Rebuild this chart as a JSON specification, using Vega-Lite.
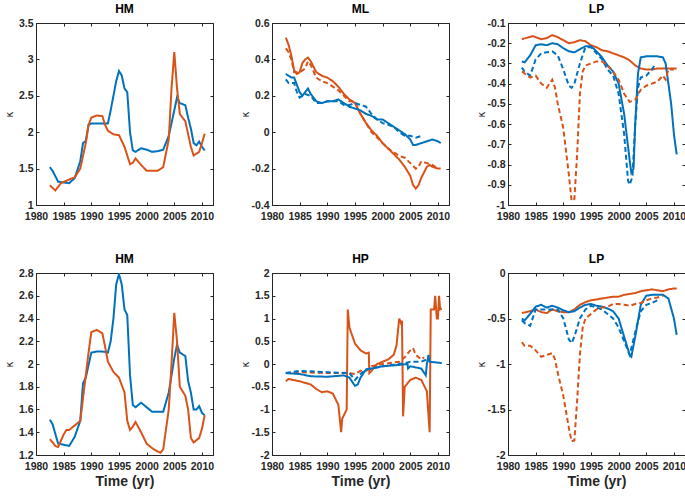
{
"$schema":"https://vega.github.io/schema/vega-lite/v6.json",
"padding":{"left":3,"top":2,"right":2,"bottom":2},
"background":"white",
"config":{
 "font":"Liberation Sans",
 "view":{"stroke":"#262626","strokeWidth":1},
 "axis":{"grid":false,"labelFont":"Liberation Sans","labelFontSize":10.5,"labelFontWeight":"bold","labelColor":"#262626","domainColor":"#262626","tickColor":"#262626","tickSize":-3,"labelPadding":6,"labelFlush":false,"titleFont":"DejaVu Sans","titleFontWeight":"normal","titleFontSize":10,"titleColor":"#262626","labelOverlap":false},
 "axisBottom":{"titleFont":"Liberation Sans","titleFontWeight":"bold","titleFontSize":14,"titlePadding":3,"labelPadding":9},
 "axisLeft":{"minExtent":20,"maxExtent":20,"titlePadding":2},
 "title":{"fontSize":12,"fontWeight":"bold","font":"Liberation Sans","color":"#000","offset":2}
},
"datasets":{"d":[
{"p":"A","s":"bs","x":1982.5,"y":1.52},{"p":"A","s":"bs","x":1983,"y":1.47},{"p":"A","s":"bs","x":1984,"y":1.32},{"p":"A","s":"bs","x":1985,"y":1.31},{"p":"A","s":"bs","x":1986,"y":1.3},{"p":"A","s":"bs","x":1987,"y":1.37},{"p":"A","s":"bs","x":1988,"y":1.6},{"p":"A","s":"bs","x":1988.5,"y":1.85},{"p":"A","s":"bs","x":1989,"y":1.88},{"p":"A","s":"bs","x":1989.5,"y":2.1},{"p":"A","s":"bs","x":1990,"y":2.12},{"p":"A","s":"bs","x":1991,"y":2.12},{"p":"A","s":"bs","x":1992,"y":2.12},{"p":"A","s":"bs","x":1993,"y":2.12},{"p":"A","s":"bs","x":1993.5,"y":2.3},{"p":"A","s":"bs","x":1994.5,"y":2.7},{"p":"A","s":"bs","x":1995,"y":2.84},{"p":"A","s":"bs","x":1995.5,"y":2.78},{"p":"A","s":"bs","x":1996,"y":2.6},{"p":"A","s":"bs","x":1996.5,"y":2.55},{"p":"A","s":"bs","x":1997,"y":2.0},{"p":"A","s":"bs","x":1997.5,"y":1.75},{"p":"A","s":"bs","x":1998,"y":1.73},{"p":"A","s":"bs","x":1999,"y":1.78},{"p":"A","s":"bs","x":2000,"y":1.76},{"p":"A","s":"bs","x":2001,"y":1.73},{"p":"A","s":"bs","x":2002,"y":1.74},{"p":"A","s":"bs","x":2003,"y":1.76},{"p":"A","s":"bs","x":2004,"y":1.95},{"p":"A","s":"bs","x":2005,"y":2.3},{"p":"A","s":"bs","x":2005.5,"y":2.48},{"p":"A","s":"bs","x":2006,"y":2.4},{"p":"A","s":"bs","x":2007,"y":2.37},{"p":"A","s":"bs","x":2007.5,"y":2.2},{"p":"A","s":"bs","x":2008,"y":2.05},{"p":"A","s":"bs","x":2008.5,"y":1.85},{"p":"A","s":"bs","x":2009,"y":1.82},{"p":"A","s":"bs","x":2009.5,"y":1.87},{"p":"A","s":"bs","x":2010,"y":1.8},{"p":"A","s":"bs","x":2010.5,"y":1.75},
{"p":"A","s":"os","x":1982.5,"y":1.27},{"p":"A","s":"os","x":1983.5,"y":1.2},{"p":"A","s":"os","x":1984.5,"y":1.3},{"p":"A","s":"os","x":1986,"y":1.35},{"p":"A","s":"os","x":1987,"y":1.38},{"p":"A","s":"os","x":1988,"y":1.5},{"p":"A","s":"os","x":1989,"y":1.85},{"p":"A","s":"os","x":1989.5,"y":2.1},{"p":"A","s":"os","x":1990,"y":2.2},{"p":"A","s":"os","x":1991,"y":2.23},{"p":"A","s":"os","x":1992,"y":2.22},{"p":"A","s":"os","x":1992.5,"y":2.1},{"p":"A","s":"os","x":1993,"y":2.02},{"p":"A","s":"os","x":1994,"y":1.97},{"p":"A","s":"os","x":1995,"y":1.96},{"p":"A","s":"os","x":1996,"y":1.8},{"p":"A","s":"os","x":1997,"y":1.56},{"p":"A","s":"os","x":1997.5,"y":1.58},{"p":"A","s":"os","x":1998,"y":1.64},{"p":"A","s":"os","x":1999,"y":1.55},{"p":"A","s":"os","x":2000,"y":1.47},{"p":"A","s":"os","x":2001,"y":1.47},{"p":"A","s":"os","x":2002,"y":1.47},{"p":"A","s":"os","x":2003,"y":1.52},{"p":"A","s":"os","x":2004,"y":1.9},{"p":"A","s":"os","x":2004.5,"y":2.6},{"p":"A","s":"os","x":2005,"y":3.1},{"p":"A","s":"os","x":2005.5,"y":2.6},{"p":"A","s":"os","x":2006,"y":2.25},{"p":"A","s":"os","x":2007,"y":2.15},{"p":"A","s":"os","x":2008,"y":1.8},{"p":"A","s":"os","x":2008.5,"y":1.68},{"p":"A","s":"os","x":2009.5,"y":1.73},{"p":"A","s":"os","x":2010,"y":1.85},{"p":"A","s":"os","x":2010.5,"y":1.98},
{"p":"B","s":"os","x":1982.5,"y":0.52},{"p":"B","s":"os","x":1983,"y":0.48},{"p":"B","s":"os","x":1983.5,"y":0.42},{"p":"B","s":"os","x":1984,"y":0.34},{"p":"B","s":"os","x":1984.5,"y":0.32},{"p":"B","s":"os","x":1985,"y":0.33},{"p":"B","s":"os","x":1985.5,"y":0.38},{"p":"B","s":"os","x":1986,"y":0.4},{"p":"B","s":"os","x":1986.5,"y":0.41},{"p":"B","s":"os","x":1987,"y":0.39},{"p":"B","s":"os","x":1988,"y":0.33},{"p":"B","s":"os","x":1989,"y":0.31},{"p":"B","s":"os","x":1990,"y":0.3},{"p":"B","s":"os","x":1991,"y":0.28},{"p":"B","s":"os","x":1992,"y":0.25},{"p":"B","s":"os","x":1993,"y":0.21},{"p":"B","s":"os","x":1994,"y":0.18},{"p":"B","s":"os","x":1995,"y":0.16},{"p":"B","s":"os","x":1996,"y":0.1},{"p":"B","s":"os","x":1997,"y":0.05},{"p":"B","s":"os","x":1998,"y":0.01},{"p":"B","s":"os","x":1999,"y":-0.02},{"p":"B","s":"os","x":2000,"y":-0.06},{"p":"B","s":"os","x":2001,"y":-0.09},{"p":"B","s":"os","x":2002,"y":-0.12},{"p":"B","s":"os","x":2003,"y":-0.15},{"p":"B","s":"os","x":2004,"y":-0.19},{"p":"B","s":"os","x":2005,"y":-0.24},{"p":"B","s":"os","x":2005.5,"y":-0.29},{"p":"B","s":"os","x":2006,"y":-0.31},{"p":"B","s":"os","x":2006.5,"y":-0.29},{"p":"B","s":"os","x":2007,"y":-0.25},{"p":"B","s":"os","x":2007.5,"y":-0.22},{"p":"B","s":"os","x":2008,"y":-0.19},{"p":"B","s":"os","x":2008.5,"y":-0.18},{"p":"B","s":"os","x":2009,"y":-0.19},{"p":"B","s":"os","x":2010,"y":-0.2},{"p":"B","s":"os","x":2010.5,"y":-0.2},
{"p":"B","s":"od","x":1982.5,"y":0.46},{"p":"B","s":"od","x":1983,"y":0.44},{"p":"B","s":"od","x":1983.5,"y":0.4},{"p":"B","s":"od","x":1984,"y":0.33},{"p":"B","s":"od","x":1985,"y":0.33},{"p":"B","s":"od","x":1986,"y":0.35},{"p":"B","s":"od","x":1986.5,"y":0.39},{"p":"B","s":"od","x":1987,"y":0.37},{"p":"B","s":"od","x":1988,"y":0.3},{"p":"B","s":"od","x":1989,"y":0.28},{"p":"B","s":"od","x":1990,"y":0.27},{"p":"B","s":"od","x":1991,"y":0.25},{"p":"B","s":"od","x":1992,"y":0.23},{"p":"B","s":"od","x":1993,"y":0.2},{"p":"B","s":"od","x":1994,"y":0.17},{"p":"B","s":"od","x":1995,"y":0.17},{"p":"B","s":"od","x":1996,"y":0.1},{"p":"B","s":"od","x":1997,"y":0.05},{"p":"B","s":"od","x":1998,"y":0.0},{"p":"B","s":"od","x":1999,"y":-0.03},{"p":"B","s":"od","x":2000,"y":-0.06},{"p":"B","s":"od","x":2001,"y":-0.09},{"p":"B","s":"od","x":2002,"y":-0.11},{"p":"B","s":"od","x":2003,"y":-0.13},{"p":"B","s":"od","x":2004,"y":-0.14},{"p":"B","s":"od","x":2005,"y":-0.17},{"p":"B","s":"od","x":2006,"y":-0.2},{"p":"B","s":"od","x":2006.5,"y":-0.19},{"p":"B","s":"od","x":2007,"y":-0.16},{"p":"B","s":"od","x":2008,"y":-0.17},{"p":"B","s":"od","x":2009,"y":-0.18},{"p":"B","s":"od","x":2010,"y":-0.2},
{"p":"B","s":"bs","x":1982.5,"y":0.32},{"p":"B","s":"bs","x":1983,"y":0.31},{"p":"B","s":"bs","x":1983.5,"y":0.3},{"p":"B","s":"bs","x":1984,"y":0.3},{"p":"B","s":"bs","x":1984.5,"y":0.26},{"p":"B","s":"bs","x":1985,"y":0.22},{"p":"B","s":"bs","x":1985.5,"y":0.2},{"p":"B","s":"bs","x":1986,"y":0.22},{"p":"B","s":"bs","x":1986.5,"y":0.24},{"p":"B","s":"bs","x":1987,"y":0.21},{"p":"B","s":"bs","x":1988,"y":0.17},{"p":"B","s":"bs","x":1989,"y":0.16},{"p":"B","s":"bs","x":1990,"y":0.17},{"p":"B","s":"bs","x":1991,"y":0.17},{"p":"B","s":"bs","x":1992,"y":0.18},{"p":"B","s":"bs","x":1993,"y":0.16},{"p":"B","s":"bs","x":1994,"y":0.14},{"p":"B","s":"bs","x":1995,"y":0.13},{"p":"B","s":"bs","x":1996,"y":0.12},{"p":"B","s":"bs","x":1997,"y":0.1},{"p":"B","s":"bs","x":1998,"y":0.09},{"p":"B","s":"bs","x":1999,"y":0.07},{"p":"B","s":"bs","x":2000,"y":0.07},{"p":"B","s":"bs","x":2001,"y":0.05},{"p":"B","s":"bs","x":2002,"y":0.03},{"p":"B","s":"bs","x":2003,"y":0.01},{"p":"B","s":"bs","x":2004,"y":-0.01},{"p":"B","s":"bs","x":2005,"y":-0.04},{"p":"B","s":"bs","x":2005.5,"y":-0.07},{"p":"B","s":"bs","x":2006,"y":-0.07},{"p":"B","s":"bs","x":2007,"y":-0.06},{"p":"B","s":"bs","x":2008,"y":-0.05},{"p":"B","s":"bs","x":2009,"y":-0.04},{"p":"B","s":"bs","x":2010,"y":-0.05},{"p":"B","s":"bs","x":2010.5,"y":-0.06},
{"p":"B","s":"bd","x":1982.5,"y":0.29},{"p":"B","s":"bd","x":1983,"y":0.27},{"p":"B","s":"bd","x":1984,"y":0.27},{"p":"B","s":"bd","x":1984.5,"y":0.22},{"p":"B","s":"bd","x":1985,"y":0.19},{"p":"B","s":"bd","x":1986,"y":0.21},{"p":"B","s":"bd","x":1987,"y":0.2},{"p":"B","s":"bd","x":1988,"y":0.16},{"p":"B","s":"bd","x":1989,"y":0.16},{"p":"B","s":"bd","x":1990,"y":0.17},{"p":"B","s":"bd","x":1991,"y":0.17},{"p":"B","s":"bd","x":1992,"y":0.17},{"p":"B","s":"bd","x":1993,"y":0.15},{"p":"B","s":"bd","x":1994,"y":0.15},{"p":"B","s":"bd","x":1995,"y":0.16},{"p":"B","s":"bd","x":1996,"y":0.15},{"p":"B","s":"bd","x":1997,"y":0.14},{"p":"B","s":"bd","x":1998,"y":0.1},{"p":"B","s":"bd","x":1999,"y":0.07},{"p":"B","s":"bd","x":2000,"y":0.05},{"p":"B","s":"bd","x":2001,"y":0.04},{"p":"B","s":"bd","x":2002,"y":0.03},{"p":"B","s":"bd","x":2003,"y":0.0},{"p":"B","s":"bd","x":2004,"y":-0.02},{"p":"B","s":"bd","x":2005,"y":-0.02},{"p":"B","s":"bd","x":2006,"y":-0.03},{"p":"B","s":"bd","x":2007,"y":-0.02},
{"p":"C","s":"os","x":1982.5,"y":-0.18},{"p":"C","s":"os","x":1984.5,"y":-0.165},{"p":"C","s":"os","x":1986,"y":-0.18},{"p":"C","s":"os","x":1987,"y":-0.175},{"p":"C","s":"os","x":1988,"y":-0.16},{"p":"C","s":"os","x":1989,"y":-0.17},{"p":"C","s":"os","x":1990,"y":-0.185},{"p":"C","s":"os","x":1991,"y":-0.2},{"p":"C","s":"os","x":1992,"y":-0.195},{"p":"C","s":"os","x":1993,"y":-0.185},{"p":"C","s":"os","x":1994,"y":-0.19},{"p":"C","s":"os","x":1995,"y":-0.21},{"p":"C","s":"os","x":1996,"y":-0.22},{"p":"C","s":"os","x":1997,"y":-0.235},{"p":"C","s":"os","x":1998,"y":-0.24},{"p":"C","s":"os","x":1999,"y":-0.25},{"p":"C","s":"os","x":2000,"y":-0.26},{"p":"C","s":"os","x":2001,"y":-0.27},{"p":"C","s":"os","x":2002,"y":-0.285},{"p":"C","s":"os","x":2003,"y":-0.31},{"p":"C","s":"os","x":2004,"y":-0.325},{"p":"C","s":"os","x":2005,"y":-0.33},{"p":"C","s":"os","x":2006,"y":-0.33},{"p":"C","s":"os","x":2007,"y":-0.325},{"p":"C","s":"os","x":2008,"y":-0.325},{"p":"C","s":"os","x":2009,"y":-0.325},{"p":"C","s":"os","x":2010,"y":-0.325},{"p":"C","s":"os","x":2010.5,"y":-0.325},
{"p":"C","s":"bs","x":1982.5,"y":-0.29},{"p":"C","s":"bs","x":1983,"y":-0.295},{"p":"C","s":"bs","x":1984,"y":-0.26},{"p":"C","s":"bs","x":1985,"y":-0.21},{"p":"C","s":"bs","x":1986,"y":-0.205},{"p":"C","s":"bs","x":1987,"y":-0.21},{"p":"C","s":"bs","x":1988,"y":-0.2},{"p":"C","s":"bs","x":1989,"y":-0.205},{"p":"C","s":"bs","x":1990,"y":-0.225},{"p":"C","s":"bs","x":1991,"y":-0.24},{"p":"C","s":"bs","x":1992,"y":-0.245},{"p":"C","s":"bs","x":1993,"y":-0.23},{"p":"C","s":"bs","x":1994,"y":-0.215},{"p":"C","s":"bs","x":1995,"y":-0.215},{"p":"C","s":"bs","x":1996,"y":-0.24},{"p":"C","s":"bs","x":1997,"y":-0.27},{"p":"C","s":"bs","x":1998,"y":-0.31},{"p":"C","s":"bs","x":1999,"y":-0.34},{"p":"C","s":"bs","x":2000,"y":-0.4},{"p":"C","s":"bs","x":2001,"y":-0.55},{"p":"C","s":"bs","x":2002,"y":-0.78},{"p":"C","s":"bs","x":2002.3,"y":-0.84},{"p":"C","s":"bs","x":2002.7,"y":-0.82},{"p":"C","s":"bs","x":2003,"y":-0.6},{"p":"C","s":"bs","x":2003.5,"y":-0.35},{"p":"C","s":"bs","x":2004,"y":-0.27},{"p":"C","s":"bs","x":2005,"y":-0.265},{"p":"C","s":"bs","x":2006,"y":-0.265},{"p":"C","s":"bs","x":2007,"y":-0.265},{"p":"C","s":"bs","x":2008,"y":-0.27},{"p":"C","s":"bs","x":2008.5,"y":-0.3},{"p":"C","s":"bs","x":2009,"y":-0.4},{"p":"C","s":"bs","x":2009.5,"y":-0.5},{"p":"C","s":"bs","x":2010,"y":-0.65},{"p":"C","s":"bs","x":2010.5,"y":-0.75},
{"p":"C","s":"bd","x":1982.5,"y":-0.32},{"p":"C","s":"bd","x":1983,"y":-0.34},{"p":"C","s":"bd","x":1984,"y":-0.36},{"p":"C","s":"bd","x":1985,"y":-0.28},{"p":"C","s":"bd","x":1986,"y":-0.25},{"p":"C","s":"bd","x":1987,"y":-0.245},{"p":"C","s":"bd","x":1988,"y":-0.24},{"p":"C","s":"bd","x":1989,"y":-0.26},{"p":"C","s":"bd","x":1990,"y":-0.33},{"p":"C","s":"bd","x":1991,"y":-0.41},{"p":"C","s":"bd","x":1991.5,"y":-0.42},{"p":"C","s":"bd","x":1992,"y":-0.4},{"p":"C","s":"bd","x":1993,"y":-0.3},{"p":"C","s":"bd","x":1994,"y":-0.22},{"p":"C","s":"bd","x":1995,"y":-0.22},{"p":"C","s":"bd","x":1996,"y":-0.25},{"p":"C","s":"bd","x":1997,"y":-0.28},{"p":"C","s":"bd","x":1998,"y":-0.33},{"p":"C","s":"bd","x":1999,"y":-0.36},{"p":"C","s":"bd","x":2000,"y":-0.45},{"p":"C","s":"bd","x":2001,"y":-0.65},{"p":"C","s":"bd","x":2001.7,"y":-0.88},{"p":"C","s":"bd","x":2002,"y":-0.9},{"p":"C","s":"bd","x":2002.5,"y":-0.86},{"p":"C","s":"bd","x":2003,"y":-0.6},{"p":"C","s":"bd","x":2003.5,"y":-0.42},{"p":"C","s":"bd","x":2004,"y":-0.37},{"p":"C","s":"bd","x":2005,"y":-0.36},{"p":"C","s":"bd","x":2006,"y":-0.33},{"p":"C","s":"bd","x":2006.5,"y":-0.31},
{"p":"C","s":"od","x":1982.5,"y":-0.34},{"p":"C","s":"od","x":1983,"y":-0.35},{"p":"C","s":"od","x":1984,"y":-0.37},{"p":"C","s":"od","x":1985,"y":-0.36},{"p":"C","s":"od","x":1986,"y":-0.4},{"p":"C","s":"od","x":1987,"y":-0.42},{"p":"C","s":"od","x":1988,"y":-0.38},{"p":"C","s":"od","x":1988.5,"y":-0.42},{"p":"C","s":"od","x":1989,"y":-0.5},{"p":"C","s":"od","x":1990,"y":-0.62},{"p":"C","s":"od","x":1991,"y":-0.85},{"p":"C","s":"od","x":1991.5,"y":-0.98},{"p":"C","s":"od","x":1992,"y":-0.97},{"p":"C","s":"od","x":1992.5,"y":-0.75},{"p":"C","s":"od","x":1993,"y":-0.45},{"p":"C","s":"od","x":1993.5,"y":-0.34},{"p":"C","s":"od","x":1994,"y":-0.31},{"p":"C","s":"od","x":1995,"y":-0.3},{"p":"C","s":"od","x":1996,"y":-0.29},{"p":"C","s":"od","x":1997,"y":-0.29},{"p":"C","s":"od","x":1998,"y":-0.31},{"p":"C","s":"od","x":1999,"y":-0.34},{"p":"C","s":"od","x":2000,"y":-0.38},{"p":"C","s":"od","x":2001,"y":-0.45},{"p":"C","s":"od","x":2002,"y":-0.49},{"p":"C","s":"od","x":2003,"y":-0.48},{"p":"C","s":"od","x":2004,"y":-0.43},{"p":"C","s":"od","x":2005,"y":-0.41},{"p":"C","s":"od","x":2006,"y":-0.4},{"p":"C","s":"od","x":2007,"y":-0.39},{"p":"C","s":"od","x":2008,"y":-0.36},{"p":"C","s":"od","x":2008.5,"y":-0.38},{"p":"C","s":"od","x":2009,"y":-0.33},{"p":"C","s":"od","x":2010,"y":-0.33},
{"p":"D","s":"bs","x":1982.5,"y":1.51},{"p":"D","s":"bs","x":1983,"y":1.47},{"p":"D","s":"bs","x":1984,"y":1.3},{"p":"D","s":"bs","x":1985,"y":1.29},{"p":"D","s":"bs","x":1986,"y":1.28},{"p":"D","s":"bs","x":1987,"y":1.36},{"p":"D","s":"bs","x":1988,"y":1.5},{"p":"D","s":"bs","x":1988.5,"y":1.83},{"p":"D","s":"bs","x":1989,"y":1.88},{"p":"D","s":"bs","x":1990,"y":2.1},{"p":"D","s":"bs","x":1991,"y":2.11},{"p":"D","s":"bs","x":1992,"y":2.11},{"p":"D","s":"bs","x":1993,"y":2.1},{"p":"D","s":"bs","x":1993.5,"y":2.2},{"p":"D","s":"bs","x":1994,"y":2.4},{"p":"D","s":"bs","x":1994.5,"y":2.7},{"p":"D","s":"bs","x":1995,"y":2.79},{"p":"D","s":"bs","x":1995.5,"y":2.7},{"p":"D","s":"bs","x":1996,"y":2.48},{"p":"D","s":"bs","x":1996.5,"y":2.43},{"p":"D","s":"bs","x":1997,"y":1.9},{"p":"D","s":"bs","x":1997.5,"y":1.64},{"p":"D","s":"bs","x":1998,"y":1.62},{"p":"D","s":"bs","x":1999,"y":1.66},{"p":"D","s":"bs","x":2000,"y":1.62},{"p":"D","s":"bs","x":2001,"y":1.58},{"p":"D","s":"bs","x":2002,"y":1.58},{"p":"D","s":"bs","x":2003,"y":1.58},{"p":"D","s":"bs","x":2004,"y":1.75},{"p":"D","s":"bs","x":2005,"y":2.05},{"p":"D","s":"bs","x":2005.5,"y":2.17},{"p":"D","s":"bs","x":2006,"y":2.1},{"p":"D","s":"bs","x":2007,"y":2.07},{"p":"D","s":"bs","x":2007.5,"y":1.85},{"p":"D","s":"bs","x":2008,"y":1.75},{"p":"D","s":"bs","x":2008.5,"y":1.6},{"p":"D","s":"bs","x":2009,"y":1.6},{"p":"D","s":"bs","x":2009.5,"y":1.63},{"p":"D","s":"bs","x":2010,"y":1.57},{"p":"D","s":"bs","x":2010.5,"y":1.55},
{"p":"D","s":"os","x":1982.5,"y":1.34},{"p":"D","s":"os","x":1983.5,"y":1.28},{"p":"D","s":"os","x":1984,"y":1.27},{"p":"D","s":"os","x":1985,"y":1.38},{"p":"D","s":"os","x":1985.5,"y":1.42},{"p":"D","s":"os","x":1986,"y":1.42},{"p":"D","s":"os","x":1987,"y":1.46},{"p":"D","s":"os","x":1988,"y":1.5},{"p":"D","s":"os","x":1989,"y":1.9},{"p":"D","s":"os","x":1989.5,"y":2.1},{"p":"D","s":"os","x":1990,"y":2.28},{"p":"D","s":"os","x":1991,"y":2.3},{"p":"D","s":"os","x":1992,"y":2.27},{"p":"D","s":"os","x":1992.5,"y":2.15},{"p":"D","s":"os","x":1993,"y":2.02},{"p":"D","s":"os","x":1994,"y":1.93},{"p":"D","s":"os","x":1995,"y":1.88},{"p":"D","s":"os","x":1996,"y":1.75},{"p":"D","s":"os","x":1996.5,"y":1.5},{"p":"D","s":"os","x":1997,"y":1.42},{"p":"D","s":"os","x":1997.5,"y":1.45},{"p":"D","s":"os","x":1998,"y":1.49},{"p":"D","s":"os","x":1999,"y":1.4},{"p":"D","s":"os","x":2000,"y":1.3},{"p":"D","s":"os","x":2001,"y":1.26},{"p":"D","s":"os","x":2002,"y":1.23},{"p":"D","s":"os","x":2002.5,"y":1.22},{"p":"D","s":"os","x":2003,"y":1.25},{"p":"D","s":"os","x":2004,"y":1.6},{"p":"D","s":"os","x":2004.5,"y":2.0},{"p":"D","s":"os","x":2005,"y":2.45},{"p":"D","s":"os","x":2005.5,"y":2.2},{"p":"D","s":"os","x":2006,"y":1.8},{"p":"D","s":"os","x":2007,"y":1.72},{"p":"D","s":"os","x":2007.5,"y":1.6},{"p":"D","s":"os","x":2008,"y":1.35},{"p":"D","s":"os","x":2008.5,"y":1.31},{"p":"D","s":"os","x":2009.5,"y":1.35},{"p":"D","s":"os","x":2010,"y":1.43},{"p":"D","s":"os","x":2010.5,"y":1.55},
{"p":"E","s":"os","x":1982.5,"y":-0.38},{"p":"E","s":"os","x":1983,"y":-0.33},{"p":"E","s":"os","x":1985,"y":-0.38},{"p":"E","s":"os","x":1987,"y":-0.45},{"p":"E","s":"os","x":1988,"y":-0.55},{"p":"E","s":"os","x":1989,"y":-0.62},{"p":"E","s":"os","x":1990,"y":-0.6},{"p":"E","s":"os","x":1991,"y":-0.65},{"p":"E","s":"os","x":1992,"y":-0.9},{"p":"E","s":"os","x":1992.5,"y":-1.5},{"p":"E","s":"os","x":1992.7,"y":-1.2},{"p":"E","s":"os","x":1993.5,"y":-1.0},{"p":"E","s":"os","x":1993.7,"y":1.2},{"p":"E","s":"os","x":1994,"y":0.8},{"p":"E","s":"os","x":1995,"y":0.45},{"p":"E","s":"os","x":1996,"y":0.3},{"p":"E","s":"os","x":1997,"y":0.23},{"p":"E","s":"os","x":1997.5,"y":0.25},{"p":"E","s":"os","x":1997.6,"y":-0.2},{"p":"E","s":"os","x":1998,"y":-0.15},{"p":"E","s":"os","x":1999,"y":0.0},{"p":"E","s":"os","x":2000,"y":0.05},{"p":"E","s":"os","x":2001,"y":0.1},{"p":"E","s":"os","x":2002,"y":0.2},{"p":"E","s":"os","x":2002.5,"y":0.4},{"p":"E","s":"os","x":2003,"y":1.0},{"p":"E","s":"os","x":2003.3,"y":0.9},{"p":"E","s":"os","x":2003.5,"y":0.95},{"p":"E","s":"os","x":2003.7,"y":-1.15},{"p":"E","s":"os","x":2004,"y":-0.5},{"p":"E","s":"os","x":2005,"y":-0.35},{"p":"E","s":"os","x":2006,"y":-0.3},{"p":"E","s":"os","x":2007,"y":-0.35},{"p":"E","s":"os","x":2008,"y":-0.6},{"p":"E","s":"os","x":2008.5,"y":-1.5},{"p":"E","s":"os","x":2008.7,"y":1.2},{"p":"E","s":"os","x":2009.3,"y":1.2},{"p":"E","s":"os","x":2009.5,"y":1.5},{"p":"E","s":"os","x":2009.8,"y":1.0},{"p":"E","s":"os","x":2010,"y":1.0},{"p":"E","s":"os","x":2010.2,"y":1.5},{"p":"E","s":"os","x":2010.4,"y":1.2},{"p":"E","s":"os","x":2010.7,"y":1.22},
{"p":"E","s":"od","x":1982.5,"y":-0.2},{"p":"E","s":"od","x":1985,"y":-0.18},{"p":"E","s":"od","x":1990,"y":-0.2},{"p":"E","s":"od","x":1994,"y":-0.2},{"p":"E","s":"od","x":1995,"y":-0.22},{"p":"E","s":"od","x":1996,"y":-0.15},{"p":"E","s":"od","x":1997,"y":-0.15},{"p":"E","s":"od","x":1998,"y":-0.05},{"p":"E","s":"od","x":2000,"y":0.0},{"p":"E","s":"od","x":2003,"y":0.05},{"p":"E","s":"od","x":2004,"y":0.15},{"p":"E","s":"od","x":2005,"y":0.3},{"p":"E","s":"od","x":2005.5,"y":0.35},{"p":"E","s":"od","x":2006,"y":0.2},{"p":"E","s":"od","x":2007,"y":0.1},{"p":"E","s":"od","x":2007.5,"y":0.15},
{"p":"E","s":"bs","x":1982.5,"y":-0.2},{"p":"E","s":"bs","x":1985,"y":-0.22},{"p":"E","s":"bs","x":1987,"y":-0.27},{"p":"E","s":"bs","x":1990,"y":-0.28},{"p":"E","s":"bs","x":1993,"y":-0.25},{"p":"E","s":"bs","x":1994,"y":-0.3},{"p":"E","s":"bs","x":1995,"y":-0.48},{"p":"E","s":"bs","x":1995.5,"y":-0.45},{"p":"E","s":"bs","x":1996,"y":-0.3},{"p":"E","s":"bs","x":1997,"y":-0.12},{"p":"E","s":"bs","x":1998,"y":-0.1},{"p":"E","s":"bs","x":2000,"y":-0.05},{"p":"E","s":"bs","x":2003,"y":-0.02},{"p":"E","s":"bs","x":2004.5,"y":0.0},{"p":"E","s":"bs","x":2004.6,"y":-0.1},{"p":"E","s":"bs","x":2005,"y":-0.05},{"p":"E","s":"bs","x":2007,"y":-0.1},{"p":"E","s":"bs","x":2007.8,"y":-0.25},{"p":"E","s":"bs","x":2008,"y":0.0},{"p":"E","s":"bs","x":2008.3,"y":0.2},{"p":"E","s":"bs","x":2008.5,"y":0.05},{"p":"E","s":"bs","x":2010,"y":0.03},{"p":"E","s":"bs","x":2010.7,"y":0.02},
{"p":"E","s":"bd","x":1982.5,"y":-0.2},{"p":"E","s":"bd","x":1985,"y":-0.15},{"p":"E","s":"bd","x":1990,"y":-0.18},{"p":"E","s":"bd","x":1994,"y":-0.2},{"p":"E","s":"bd","x":1995,"y":-0.35},{"p":"E","s":"bd","x":1996,"y":-0.22},{"p":"E","s":"bd","x":1997,"y":-0.12},{"p":"E","s":"bd","x":2000,"y":-0.05},{"p":"E","s":"bd","x":2004,"y":0.02},{"p":"E","s":"bd","x":2005,"y":0.05},{"p":"E","s":"bd","x":2007,"y":0.05},{"p":"E","s":"bd","x":2008,"y":0.1},
{"p":"F","s":"os","x":1982.5,"y":-0.44},{"p":"F","s":"os","x":1984,"y":-0.42},{"p":"F","s":"os","x":1985,"y":-0.4},{"p":"F","s":"os","x":1986,"y":-0.43},{"p":"F","s":"os","x":1987,"y":-0.44},{"p":"F","s":"os","x":1988,"y":-0.4},{"p":"F","s":"os","x":1989,"y":-0.42},{"p":"F","s":"os","x":1990,"y":-0.43},{"p":"F","s":"os","x":1991,"y":-0.43},{"p":"F","s":"os","x":1992,"y":-0.4},{"p":"F","s":"os","x":1993,"y":-0.35},{"p":"F","s":"os","x":1994,"y":-0.32},{"p":"F","s":"os","x":1995,"y":-0.3},{"p":"F","s":"os","x":1996,"y":-0.29},{"p":"F","s":"os","x":1997,"y":-0.28},{"p":"F","s":"os","x":1998,"y":-0.27},{"p":"F","s":"os","x":1999,"y":-0.26},{"p":"F","s":"os","x":2000,"y":-0.26},{"p":"F","s":"os","x":2001,"y":-0.24},{"p":"F","s":"os","x":2002,"y":-0.23},{"p":"F","s":"os","x":2003,"y":-0.22},{"p":"F","s":"os","x":2004,"y":-0.2},{"p":"F","s":"os","x":2005,"y":-0.19},{"p":"F","s":"os","x":2006,"y":-0.18},{"p":"F","s":"os","x":2007,"y":-0.19},{"p":"F","s":"os","x":2008,"y":-0.2},{"p":"F","s":"os","x":2009,"y":-0.18},{"p":"F","s":"os","x":2010,"y":-0.17},{"p":"F","s":"os","x":2010.5,"y":-0.17},
{"p":"F","s":"bs","x":1982.5,"y":-0.5},{"p":"F","s":"bs","x":1983,"y":-0.52},{"p":"F","s":"bs","x":1984,"y":-0.45},{"p":"F","s":"bs","x":1985,"y":-0.37},{"p":"F","s":"bs","x":1986,"y":-0.35},{"p":"F","s":"bs","x":1987,"y":-0.38},{"p":"F","s":"bs","x":1988,"y":-0.36},{"p":"F","s":"bs","x":1989,"y":-0.38},{"p":"F","s":"bs","x":1990,"y":-0.41},{"p":"F","s":"bs","x":1991,"y":-0.43},{"p":"F","s":"bs","x":1992,"y":-0.42},{"p":"F","s":"bs","x":1993,"y":-0.38},{"p":"F","s":"bs","x":1994,"y":-0.35},{"p":"F","s":"bs","x":1995,"y":-0.34},{"p":"F","s":"bs","x":1996,"y":-0.36},{"p":"F","s":"bs","x":1997,"y":-0.37},{"p":"F","s":"bs","x":1998,"y":-0.39},{"p":"F","s":"bs","x":1999,"y":-0.42},{"p":"F","s":"bs","x":2000,"y":-0.5},{"p":"F","s":"bs","x":2001,"y":-0.7},{"p":"F","s":"bs","x":2002,"y":-0.9},{"p":"F","s":"bs","x":2002.3,"y":-0.92},{"p":"F","s":"bs","x":2003,"y":-0.7},{"p":"F","s":"bs","x":2004,"y":-0.35},{"p":"F","s":"bs","x":2005,"y":-0.25},{"p":"F","s":"bs","x":2006,"y":-0.24},{"p":"F","s":"bs","x":2007,"y":-0.24},{"p":"F","s":"bs","x":2008,"y":-0.24},{"p":"F","s":"bs","x":2009,"y":-0.28},{"p":"F","s":"bs","x":2010,"y":-0.5},{"p":"F","s":"bs","x":2010.5,"y":-0.68},
{"p":"F","s":"bd","x":1982.5,"y":-0.52},{"p":"F","s":"bd","x":1983,"y":-0.55},{"p":"F","s":"bd","x":1984,"y":-0.58},{"p":"F","s":"bd","x":1985,"y":-0.4},{"p":"F","s":"bd","x":1986,"y":-0.4},{"p":"F","s":"bd","x":1987,"y":-0.4},{"p":"F","s":"bd","x":1988,"y":-0.4},{"p":"F","s":"bd","x":1989,"y":-0.4},{"p":"F","s":"bd","x":1990,"y":-0.5},{"p":"F","s":"bd","x":1991,"y":-0.73},{"p":"F","s":"bd","x":1991.5,"y":-0.77},{"p":"F","s":"bd","x":1992,"y":-0.7},{"p":"F","s":"bd","x":1993,"y":-0.5},{"p":"F","s":"bd","x":1994,"y":-0.4},{"p":"F","s":"bd","x":1995,"y":-0.36},{"p":"F","s":"bd","x":1996,"y":-0.38},{"p":"F","s":"bd","x":1997,"y":-0.4},{"p":"F","s":"bd","x":1998,"y":-0.45},{"p":"F","s":"bd","x":1999,"y":-0.5},{"p":"F","s":"bd","x":2000,"y":-0.6},{"p":"F","s":"bd","x":2001,"y":-0.75},{"p":"F","s":"bd","x":2002,"y":-0.9},{"p":"F","s":"bd","x":2003,"y":-0.65},{"p":"F","s":"bd","x":2004,"y":-0.42},{"p":"F","s":"bd","x":2005,"y":-0.35},{"p":"F","s":"bd","x":2006,"y":-0.33},{"p":"F","s":"bd","x":2007,"y":-0.3},
{"p":"F","s":"od","x":1982.5,"y":-0.76},{"p":"F","s":"od","x":1983,"y":-0.8},{"p":"F","s":"od","x":1984,"y":-0.8},{"p":"F","s":"od","x":1985,"y":-0.85},{"p":"F","s":"od","x":1986,"y":-0.92},{"p":"F","s":"od","x":1987,"y":-0.9},{"p":"F","s":"od","x":1988,"y":-0.88},{"p":"F","s":"od","x":1988.5,"y":-0.95},{"p":"F","s":"od","x":1989,"y":-1.1},{"p":"F","s":"od","x":1990,"y":-1.35},{"p":"F","s":"od","x":1991,"y":-1.7},{"p":"F","s":"od","x":1991.5,"y":-1.85},{"p":"F","s":"od","x":1992,"y":-1.84},{"p":"F","s":"od","x":1992.5,"y":-1.4},{"p":"F","s":"od","x":1993,"y":-0.9},{"p":"F","s":"od","x":1993.5,"y":-0.6},{"p":"F","s":"od","x":1994,"y":-0.5},{"p":"F","s":"od","x":1995,"y":-0.45},{"p":"F","s":"od","x":1996,"y":-0.4},{"p":"F","s":"od","x":1997,"y":-0.38},{"p":"F","s":"od","x":1998,"y":-0.37},{"p":"F","s":"od","x":1999,"y":-0.34},{"p":"F","s":"od","x":2000,"y":-0.34},{"p":"F","s":"od","x":2001,"y":-0.35},{"p":"F","s":"od","x":2002,"y":-0.36},{"p":"F","s":"od","x":2003,"y":-0.34},{"p":"F","s":"od","x":2004,"y":-0.33},{"p":"F","s":"od","x":2005,"y":-0.3},{"p":"F","s":"od","x":2006,"y":-0.28},{"p":"F","s":"od","x":2007,"y":-0.27},{"p":"F","s":"od","x":2008,"y":-0.25}
]},
"data":{"name":"d"},
"vconcat":[
{"hconcat":[
{"width":177,"height":182,"title":"HM","transform":[{"filter":"datum.p==='A'"}],
 "layer":[
 {"mark":{"type":"line","strokeWidth":2,"clip":true},
 "encoding":{
  "x":{"field":"x","type":"quantitative","scale":{"domain":[1980,2012],"nice":false,"zero":false},"axis":{"values":[1980,1985,1990,1995,2000,2005,2010],"format":"d","title":null}},
  "y":{"field":"y","type":"quantitative","scale":{"domain":[1,3.5],"nice":false,"zero":false},"axis":{"values":[1,1.5,2,2.5,3,3.5],"title":"κ","labelExpr":"replace(format(datum.value,'~g'),'\u2212','-')"}},
  "color":{"field":"s","type":"nominal","scale":{"domain":["bs","bd","os","od"],"range":["#0072BD","#0072BD","#D95319","#D95319"]},"legend":null},
  "strokeDash":{"field":"s","type":"nominal","scale":{"domain":["bs","bd","os","od"],"range":[[1,0],[5,3],[1,0],[5,3]]},"legend":null}}},
 {"mark":{"type":"line","opacity":0},
 "encoding":{
  "x":{"field":"x","type":"quantitative","scale":{"domain":[1980,2012],"nice":false,"zero":false},"axis":{"orient":"top","values":[1980,1985,1990,1995,2000,2005,2010],"labels":false,"domain":false,"title":null,"minExtent":0,"maxExtent":0}},
  "y":{"field":"y","type":"quantitative","scale":{"domain":[1,3.5],"nice":false,"zero":false},"axis":{"orient":"right","values":[1,1.5,2,2.5,3,3.5],"labels":false,"domain":false,"title":null,"minExtent":0,"maxExtent":0}}}}
 ],
 "resolve":{"axis":{"x":"independent","y":"independent"}}},
{"width":177,"height":182,"title":"ML","transform":[{"filter":"datum.p==='B'"}],
 "layer":[
 {"mark":{"type":"line","strokeWidth":2,"clip":true},
 "encoding":{
  "x":{"field":"x","type":"quantitative","scale":{"domain":[1980,2012],"nice":false,"zero":false},"axis":{"values":[1980,1985,1990,1995,2000,2005,2010],"format":"d","title":null}},
  "y":{"field":"y","type":"quantitative","scale":{"domain":[-0.4,0.6],"nice":false,"zero":false},"axis":{"values":[-0.4,-0.2,0,0.2,0.4,0.6],"title":"κ","labelExpr":"replace(format(datum.value,'~g'),'\u2212','-')"}},
  "color":{"field":"s","type":"nominal","scale":{"domain":["bs","bd","os","od"],"range":["#0072BD","#0072BD","#D95319","#D95319"]},"legend":null},
  "strokeDash":{"field":"s","type":"nominal","scale":{"domain":["bs","bd","os","od"],"range":[[1,0],[5,3],[1,0],[5,3]]},"legend":null}}},
 {"mark":{"type":"line","opacity":0},
 "encoding":{
  "x":{"field":"x","type":"quantitative","scale":{"domain":[1980,2012],"nice":false,"zero":false},"axis":{"orient":"top","values":[1980,1985,1990,1995,2000,2005,2010],"labels":false,"domain":false,"title":null,"minExtent":0,"maxExtent":0}},
  "y":{"field":"y","type":"quantitative","scale":{"domain":[-0.4,0.6],"nice":false,"zero":false},"axis":{"orient":"right","values":[-0.4,-0.2,0,0.2,0.4,0.6],"labels":false,"domain":false,"title":null,"minExtent":0,"maxExtent":0}}}}
 ],
 "resolve":{"axis":{"x":"independent","y":"independent"}}},
{"width":177,"height":182,"title":"LP","transform":[{"filter":"datum.p==='C'"}],
 "layer":[
 {"mark":{"type":"line","strokeWidth":2,"clip":true},
 "encoding":{
  "x":{"field":"x","type":"quantitative","scale":{"domain":[1980,2012],"nice":false,"zero":false},"axis":{"values":[1980,1985,1990,1995,2000,2005,2010],"format":"d","title":null}},
  "y":{"field":"y","type":"quantitative","scale":{"domain":[-1,-0.1],"nice":false,"zero":false},"axis":{"values":[-1,-0.9,-0.8,-0.7,-0.6,-0.5,-0.4,-0.3,-0.2,-0.1],"title":"κ","labelExpr":"replace(format(datum.value,'~g'),'\u2212','-')"}},
  "color":{"field":"s","type":"nominal","scale":{"domain":["bs","bd","os","od"],"range":["#0072BD","#0072BD","#D95319","#D95319"]},"legend":null},
  "strokeDash":{"field":"s","type":"nominal","scale":{"domain":["bs","bd","os","od"],"range":[[1,0],[5,3],[1,0],[5,3]]},"legend":null}}},
 {"mark":{"type":"line","opacity":0},
 "encoding":{
  "x":{"field":"x","type":"quantitative","scale":{"domain":[1980,2012],"nice":false,"zero":false},"axis":{"orient":"top","values":[1980,1985,1990,1995,2000,2005,2010],"labels":false,"domain":false,"title":null,"minExtent":0,"maxExtent":0}},
  "y":{"field":"y","type":"quantitative","scale":{"domain":[-1,-0.1],"nice":false,"zero":false},"axis":{"orient":"right","values":[-1,-0.9,-0.8,-0.7,-0.6,-0.5,-0.4,-0.3,-0.2,-0.1],"labels":false,"domain":false,"title":null,"minExtent":0,"maxExtent":0}}}}
 ],
 "resolve":{"axis":{"x":"independent","y":"independent"}}}
],"spacing":24},
{"hconcat":[
{"width":177,"height":182,"title":"HM","transform":[{"filter":"datum.p==='D'"}],
 "layer":[
 {"mark":{"type":"line","strokeWidth":2,"clip":true},
 "encoding":{
  "x":{"field":"x","type":"quantitative","scale":{"domain":[1980,2012],"nice":false,"zero":false},"axis":{"values":[1980,1985,1990,1995,2000,2005,2010],"format":"d","title":"Time (yr)"}},
  "y":{"field":"y","type":"quantitative","scale":{"domain":[1.2,2.8],"nice":false,"zero":false},"axis":{"values":[1.2,1.4,1.6,1.8,2,2.2,2.4,2.6,2.8],"title":"κ","labelExpr":"replace(format(datum.value,'~g'),'\u2212','-')"}},
  "color":{"field":"s","type":"nominal","scale":{"domain":["bs","bd","os","od"],"range":["#0072BD","#0072BD","#D95319","#D95319"]},"legend":null},
  "strokeDash":{"field":"s","type":"nominal","scale":{"domain":["bs","bd","os","od"],"range":[[1,0],[5,3],[1,0],[5,3]]},"legend":null}}},
 {"mark":{"type":"line","opacity":0},
 "encoding":{
  "x":{"field":"x","type":"quantitative","scale":{"domain":[1980,2012],"nice":false,"zero":false},"axis":{"orient":"top","values":[1980,1985,1990,1995,2000,2005,2010],"labels":false,"domain":false,"title":null,"minExtent":0,"maxExtent":0}},
  "y":{"field":"y","type":"quantitative","scale":{"domain":[1.2,2.8],"nice":false,"zero":false},"axis":{"orient":"right","values":[1.2,1.4,1.6,1.8,2,2.2,2.4,2.6,2.8],"labels":false,"domain":false,"title":null,"minExtent":0,"maxExtent":0}}}}
 ],
 "resolve":{"axis":{"x":"independent","y":"independent"}}},
{"width":177,"height":182,"title":"HP","transform":[{"filter":"datum.p==='E'"}],
 "layer":[
 {"mark":{"type":"line","strokeWidth":2,"clip":true},
 "encoding":{
  "x":{"field":"x","type":"quantitative","scale":{"domain":[1980,2012],"nice":false,"zero":false},"axis":{"values":[1980,1985,1990,1995,2000,2005,2010],"format":"d","title":"Time (yr)"}},
  "y":{"field":"y","type":"quantitative","scale":{"domain":[-2,2],"nice":false,"zero":false},"axis":{"values":[-2,-1.5,-1,-0.5,0,0.5,1,1.5,2],"title":"κ","labelExpr":"replace(format(datum.value,'~g'),'\u2212','-')"}},
  "color":{"field":"s","type":"nominal","scale":{"domain":["bs","bd","os","od"],"range":["#0072BD","#0072BD","#D95319","#D95319"]},"legend":null},
  "strokeDash":{"field":"s","type":"nominal","scale":{"domain":["bs","bd","os","od"],"range":[[1,0],[5,3],[1,0],[5,3]]},"legend":null}}},
 {"mark":{"type":"line","opacity":0},
 "encoding":{
  "x":{"field":"x","type":"quantitative","scale":{"domain":[1980,2012],"nice":false,"zero":false},"axis":{"orient":"top","values":[1980,1985,1990,1995,2000,2005,2010],"labels":false,"domain":false,"title":null,"minExtent":0,"maxExtent":0}},
  "y":{"field":"y","type":"quantitative","scale":{"domain":[-2,2],"nice":false,"zero":false},"axis":{"orient":"right","values":[-2,-1.5,-1,-0.5,0,0.5,1,1.5,2],"labels":false,"domain":false,"title":null,"minExtent":0,"maxExtent":0}}}}
 ],
 "resolve":{"axis":{"x":"independent","y":"independent"}}},
{"width":177,"height":182,"title":"LP","transform":[{"filter":"datum.p==='F'"}],
 "layer":[
 {"mark":{"type":"line","strokeWidth":2,"clip":true},
 "encoding":{
  "x":{"field":"x","type":"quantitative","scale":{"domain":[1980,2012],"nice":false,"zero":false},"axis":{"values":[1980,1985,1990,1995,2000,2005,2010],"format":"d","title":"Time (yr)"}},
  "y":{"field":"y","type":"quantitative","scale":{"domain":[-2,0],"nice":false,"zero":false},"axis":{"values":[-2,-1.5,-1,-0.5,0],"title":"κ","labelExpr":"replace(format(datum.value,'~g'),'\u2212','-')"}},
  "color":{"field":"s","type":"nominal","scale":{"domain":["bs","bd","os","od"],"range":["#0072BD","#0072BD","#D95319","#D95319"]},"legend":null},
  "strokeDash":{"field":"s","type":"nominal","scale":{"domain":["bs","bd","os","od"],"range":[[1,0],[5,3],[1,0],[5,3]]},"legend":null}}},
 {"mark":{"type":"line","opacity":0},
 "encoding":{
  "x":{"field":"x","type":"quantitative","scale":{"domain":[1980,2012],"nice":false,"zero":false},"axis":{"orient":"top","values":[1980,1985,1990,1995,2000,2005,2010],"labels":false,"domain":false,"title":null,"minExtent":0,"maxExtent":0}},
  "y":{"field":"y","type":"quantitative","scale":{"domain":[-2,0],"nice":false,"zero":false},"axis":{"orient":"right","values":[-2,-1.5,-1,-0.5,0],"labels":false,"domain":false,"title":null,"minExtent":0,"maxExtent":0}}}}
 ],
 "resolve":{"axis":{"x":"independent","y":"independent"}}}
],"spacing":24}
],
"spacing":30
}
